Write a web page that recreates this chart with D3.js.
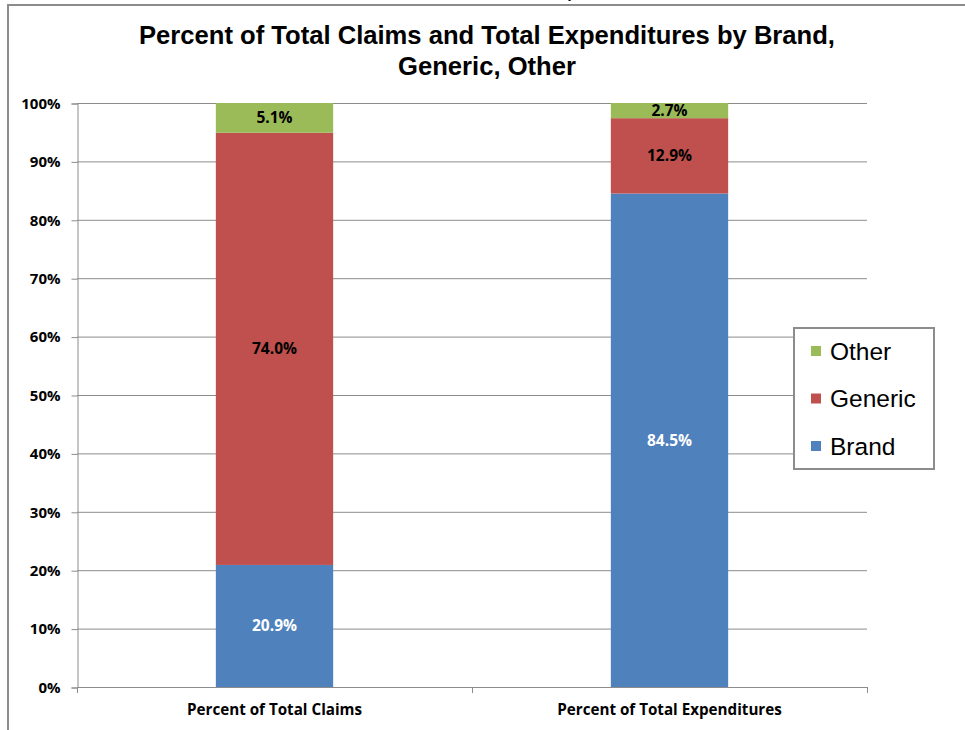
<!DOCTYPE html>
<html>
<head>
<meta charset="utf-8">
<script src="https://cdn.jsdelivr.net/npm/d3@7"></script>
<style>
  body { margin: 0; background: #fff; }
  svg { display: block; }
</style>
</head>
<body>
<div id="chart"><svg></svg></div>
<script>
const width = 965;
const height = 730;

// data
const categories = ['Percent of Total Claims', 'Percent of Total Expenditures'];
const seriesNames = ['Brand', 'Generic', 'Other'];
const brand   = [20.9, 84.5];
const generic = [74.0, 12.9];
const other   = [5.1, 2.7];
const yTicks  = [0, 10, 20, 30, 40, 50, 60, 70, 80, 90, 100];

const colors = { Brand: '#4f81bd', Generic: '#c0504d', Other: '#9bbb59' };
const labelColors = { Brand: '#ffffff', Generic: '#000000', Other: '#000000' };
const labelFont = 'Open Sans, Lato, sans-serif';

const svg = d3.select('#chart').select('svg')
    .attr('width', width)
    .attr('height', height);

// outer frame (left + top edge only visible)
svg.append('path')
    .attr('d', 'M8,730 V5 H965')
    .attr('fill', 'none')
    .attr('stroke', '#8c8c8c')
    .attr('stroke-width', 2);

// tiny clipped text fragment at the very top, as in the source image
svg.append('text')
    .attr('x', 568).attr('y', -2)
    .style('font-family', 'Liberation Sans, Arial, sans-serif')
    .style('font-size', '14px')
    .text('y');

// title
const title = svg.append('text')
    .attr('text-anchor', 'middle')
    .style('font-family', 'Liberation Sans, Arial, sans-serif')
    .style('font-weight', 'bold')
    .style('font-size', '25.6px')
    .attr('fill', '#000');
title.append('tspan').attr('x', 487).attr('y', 44).text('Percent of Total Claims and Total Expenditures by Brand,');
title.append('tspan').attr('x', 487).attr('y', 75).text('Generic, Other');

const margin = { left: 77, right: 867, top: 103, bottom: 687 };

const x = d3.scaleBand()
    .domain(categories)
    .range([margin.left, margin.right])
    .paddingInner(0)
    .paddingOuter(0);

const y = d3.scaleLinear()
    .domain([0, 100])
    .range([margin.bottom, margin.top]);

// gridlines
svg.append('g')
    .selectAll('line')
    .data(yTicks.filter(d => d > 0))
    .join('line')
    .attr('x1', margin.left)
    .attr('x2', margin.right)
    .attr('y1', d => y(d) + 0.5)
    .attr('y2', d => y(d) + 0.5)
    .attr('stroke', '#8c8c8c')
    .attr('stroke-width', 1);

// y axis
const yAxis = d3.axisLeft(y)
    .tickValues(yTicks)
    .tickSize(6)
    .tickPadding(11)
    .tickFormat(d => d + '%');

const gy = svg.append('g')
    .attr('transform', `translate(${margin.left + 0.5},0.5)`)
    .call(yAxis);
gy.select('.domain').attr('stroke', '#8c8c8c');
gy.selectAll('.tick line').attr('stroke', '#8c8c8c');
gy.selectAll('.tick text')
    .style('font-family', labelFont)
    .style('font-weight', 'bold')
    .style('font-size', '15px')
    .attr('fill', '#000');

// stacked bars
const rows = categories.map((c, i) => ({ category: c, Brand: brand[i], Generic: generic[i], Other: other[i] }));
const stack = d3.stack().keys(seriesNames)(rows);

const barWidth = x.bandwidth() * 0.297;

const layers = svg.append('g')
    .selectAll('g')
    .data(stack)
    .join('g')
    .attr('fill', d => colors[d.key]);

layers.selectAll('rect')
    .data(d => d.map(p => ({ key: d.key, p: p })))
    .join('rect')
    .attr('x', d => x(d.p.data.category) + x.bandwidth() / 2 - barWidth / 2)
    .attr('width', barWidth)
    .attr('y', d => y(Math.min(d.p[1], 100)))
    .attr('height', d => y(d.p[0]) - y(Math.min(d.p[1], 100)));

// value labels
layers.selectAll('text')
    .data(d => d.map(p => ({ key: d.key, p: p })))
    .join('text')
    .attr('x', d => x(d.p.data.category) + x.bandwidth() / 2)
    .attr('y', d => y((d.p[0] + Math.min(d.p[1], 100)) / 2))
    .attr('dy', '0.35em')
    .attr('text-anchor', 'middle')
    .attr('fill', d => labelColors[d.key])
    .style('font-family', labelFont)
    .style('font-weight', 'bold')
    .style('font-size', '15.5px')
    .text(d => d3.format('.1f')(d.p.data[d.key]) + '%');

// x axis
const xAxis = d3.axisBottom(x).tickSize(0).tickPadding(17);
const gx = svg.append('g')
    .attr('transform', `translate(0,${margin.bottom + 0.5})`)
    .call(xAxis);
gx.select('.domain').attr('stroke', '#8c8c8c').attr('d', `M${margin.left},0H${margin.right}`);
gx.selectAll('.tick text')
    .style('font-family', labelFont)
    .style('font-weight', 'bold')
    .style('font-size', '15.2px')
    .attr('fill', '#000');

// category boundary ticks
svg.append('g')
    .selectAll('line')
    .data([margin.left, x(categories[1]), margin.right])
    .join('line')
    .attr('x1', d => Math.round(d) + 0.5)
    .attr('x2', d => Math.round(d) + 0.5)
    .attr('y1', margin.bottom)
    .attr('y2', margin.bottom + 6)
    .attr('stroke', '#8c8c8c');

// legend
const legend = svg.append('g').attr('transform', 'translate(794,328)');
legend.append('rect')
    .attr('width', 140)
    .attr('height', 141)
    .attr('fill', '#fff')
    .attr('stroke', '#8c8c8c')
    .attr('stroke-width', 2);

const legendItems = seriesNames.slice().reverse();
const li = legend.selectAll('g.item')
    .data(legendItems)
    .join('g')
    .attr('class', 'item')
    .attr('transform', (d, i) => `translate(17,${23 + i * 47.5})`);

li.append('rect')
    .attr('x', 0).attr('y', -5)
    .attr('width', 10).attr('height', 10)
    .attr('fill', d => colors[d]);

li.append('text')
    .attr('x', 19)
    .attr('dy', '0.36em')
    .style('font-family', 'Liberation Sans, Arial, sans-serif')
    .style('font-size', '24.5px')
    .attr('fill', '#000')
    .text(d => d);
</script>
</body>
</html>
